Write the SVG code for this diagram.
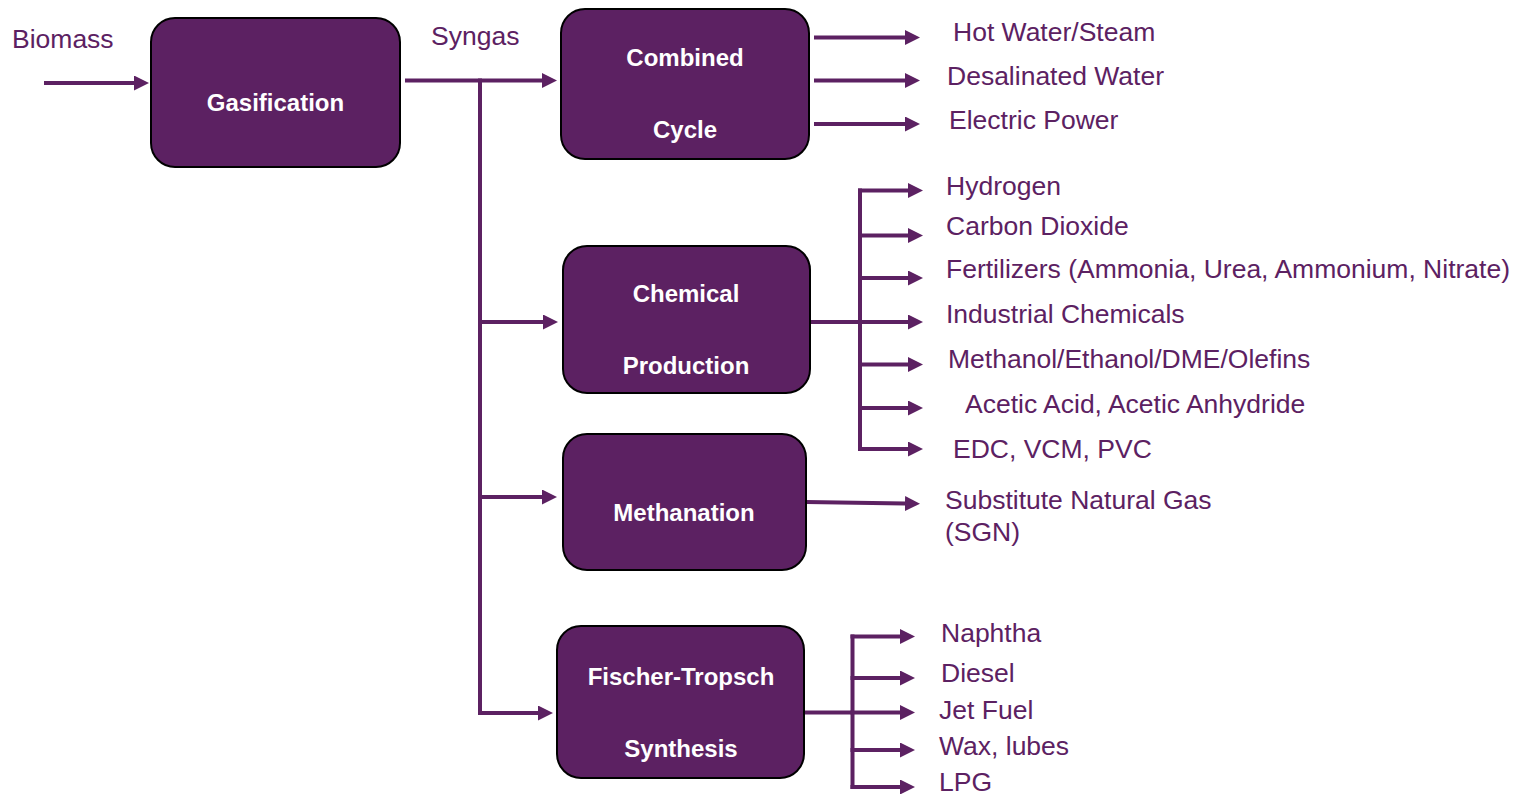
<svg xmlns="http://www.w3.org/2000/svg" width="1516" height="794" viewBox="0 0 1516 794">
<style>
.box{fill:#5C2162;stroke:#000;stroke-width:2}
.bl{font-family:"Liberation Sans",Arial,sans-serif;font-weight:bold;font-size:24px;fill:#fff;text-anchor:middle}
.lb{font-family:"Liberation Sans",Arial,sans-serif;font-size:26.5px;fill:#5C2162}
.ln{stroke:#5C2162;stroke-width:4;fill:none}
.ar{stroke:#5C2162;stroke-width:4;fill:none;marker-end:url(#ah)}
</style>
<defs>
<marker id="ah" markerUnits="userSpaceOnUse" markerWidth="16" markerHeight="16" refX="0" refY="7.5" orient="auto" viewBox="0 0 16 16">
<path d="M0,0 L15,7.5 L0,15 z" fill="#5C2162"/>
</marker>
</defs>
<rect width="1516" height="794" fill="#fff"/>
<g id="connectors">
<line class="ar" x1="44" y1="83" x2="134" y2="83"/>
<line class="ar" x1="405" y1="80.5" x2="542" y2="80.5"/>
<line class="ln" x1="480" y1="78.5" x2="480" y2="715"/>
<line class="ar" x1="478" y1="322" x2="543" y2="322"/>
<line class="ar" x1="478" y1="497" x2="542" y2="497"/>
<line class="ar" x1="478" y1="713" x2="538" y2="713"/>
<line class="ar" x1="814" y1="37.5" x2="905" y2="37.5"/>
<line class="ar" x1="814" y1="80.5" x2="905" y2="80.5"/>
<line class="ar" x1="814" y1="124" x2="905" y2="124"/>
<line class="ln" x1="811" y1="322" x2="860" y2="322"/>
<line class="ln" x1="860" y1="188.5" x2="860" y2="451"/>
<line class="ar" x1="858" y1="190.5" x2="908" y2="190.5"/>
<line class="ar" x1="858" y1="235.5" x2="908" y2="235.5"/>
<line class="ar" x1="858" y1="278" x2="908" y2="278"/>
<line class="ar" x1="858" y1="322" x2="908" y2="322"/>
<line class="ar" x1="858" y1="364.5" x2="908" y2="364.5"/>
<line class="ar" x1="858" y1="408" x2="908" y2="408"/>
<line class="ar" x1="858" y1="449" x2="908" y2="449"/>
<line class="ar" x1="806" y1="502" x2="905" y2="503.5"/>
<line class="ln" x1="804" y1="712.5" x2="852.5" y2="712.5"/>
<line class="ln" x1="852.5" y1="634.5" x2="852.5" y2="789"/>
<line class="ar" x1="850.5" y1="636.5" x2="900" y2="636.5"/>
<line class="ar" x1="850.5" y1="678" x2="900" y2="678"/>
<line class="ar" x1="850.5" y1="712.5" x2="900" y2="712.5"/>
<line class="ar" x1="850.5" y1="750" x2="900" y2="750"/>
<line class="ar" x1="850.5" y1="787" x2="900" y2="787"/>
</g>
<g id="gasification">
<rect class="box" x="151" y="18" width="249" height="149" rx="24"/>
<text class="bl" x="275.5" y="111">Gasification</text>
</g>
<g id="combined-cycle">
<rect class="box" x="561" y="9" width="248" height="150" rx="24"/>
<text class="bl" x="685" y="66">Combined</text>
<text class="bl" x="685" y="138">Cycle</text>
</g>
<g id="chemical-production">
<rect class="box" x="563" y="246" width="247" height="147" rx="24"/>
<text class="bl" x="686" y="302">Chemical</text>
<text class="bl" x="686" y="374">Production</text>
</g>
<g id="methanation">
<rect class="box" x="563" y="434" width="243" height="136" rx="24"/>
<text class="bl" x="684" y="521">Methanation</text>
</g>
<g id="fischer-tropsch">
<rect class="box" x="557" y="626" width="247" height="152" rx="24"/>
<text class="bl" x="681" y="685">Fischer-Tropsch</text>
<text class="bl" x="681" y="757">Synthesis</text>
</g>
<g id="labels">
<text class="lb" x="12" y="48">Biomass</text>
<text class="lb" x="431" y="45">Syngas</text>
<text class="lb" x="953" y="41">Hot Water/Steam</text>
<text class="lb" x="947" y="85">Desalinated Water</text>
<text class="lb" x="949" y="129">Electric Power</text>
<text class="lb" x="946" y="195">Hydrogen</text>
<text class="lb" x="946" y="235">Carbon Dioxide</text>
<text class="lb" x="946" y="278">Fertilizers (Ammonia, Urea, Ammonium, Nitrate)</text>
<text class="lb" x="946" y="323">Industrial Chemicals</text>
<text class="lb" x="948" y="368">Methanol/Ethanol/DME/Olefins</text>
<text class="lb" x="965" y="413">Acetic Acid, Acetic Anhydride</text>
<text class="lb" x="953" y="458">EDC, VCM, PVC</text>
<text class="lb" x="945" y="509">Substitute Natural Gas</text>
<text class="lb" x="945" y="541">(SGN)</text>
<text class="lb" x="941" y="642">Naphtha</text>
<text class="lb" x="941" y="682">Diesel</text>
<text class="lb" x="939" y="719">Jet Fuel</text>
<text class="lb" x="939" y="755">Wax, lubes</text>
<text class="lb" x="939" y="791">LPG</text>
</g>
</svg>
